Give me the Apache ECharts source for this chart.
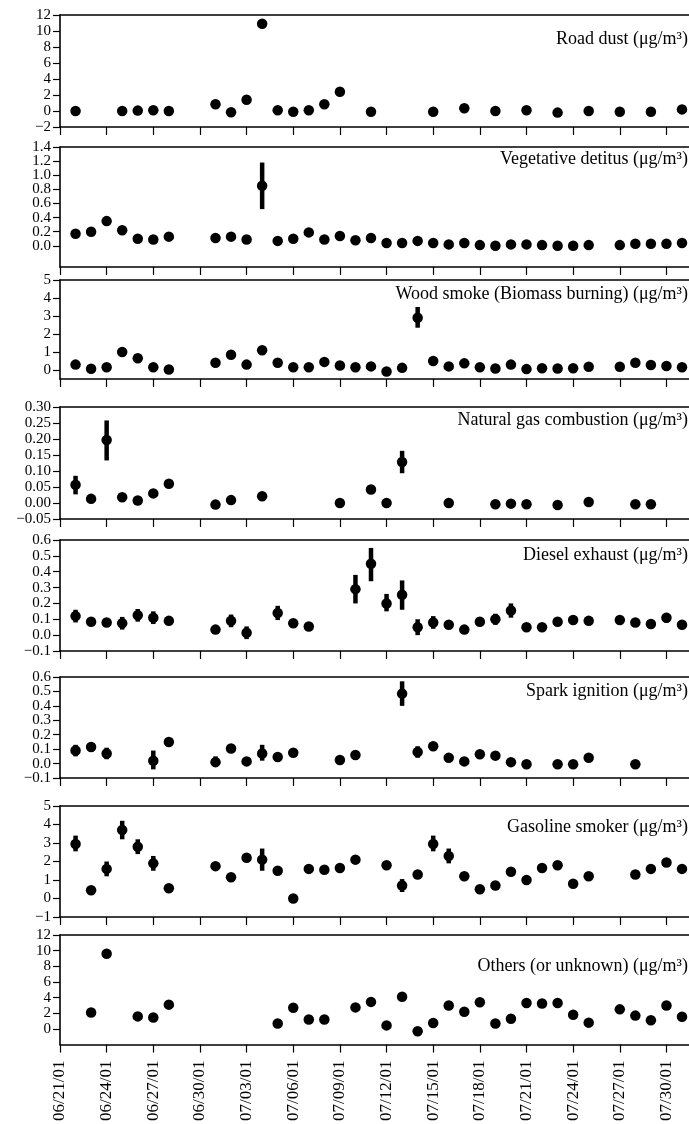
<!DOCTYPE html>
<html>
<head>
<meta charset="utf-8">
<script src="https://cdn.jsdelivr.net/npm/echarts@6/dist/echarts.min.js"></script>
<style>
html,body{margin:0;padding:0;background:#fff;}
#chart{width:689px;height:1124px;}
</style>
</head>
<body>
<div id="chart"></div>
<script>
// ---------- x axis (days after 06/21/01) ----------
const tickDays = [0,3,6,9,12,15,18,21,24,27,30,33,36,39];
const tickLabels = ['06/21/01','06/24/01','06/27/01','06/30/01','07/03/01','07/06/01','07/09/01','07/12/01','07/15/01','07/18/01','07/21/01','07/24/01','07/27/01','07/30/01'];

// ---------- panel titles ----------
const titles = [
  'Road dust (μg/m³)',
  'Vegetative detitus (μg/m³)',
  'Wood smoke (Biomass burning) (μg/m³)',
  'Natural gas combustion (μg/m³)',
  'Diesel exhaust (μg/m³)',
  'Spark ignition (μg/m³)',
  'Gasoline smoker (μg/m³)',
  'Others (or unknown) (μg/m³)'
];

// ---------- y tick values / labels ----------
const roadTicks = [-2,0,2,4,6,8,10,12];
const roadLabels = ['−2','0','2','4','6','8','10','12'];
const vegTicks = [0,0.2,0.4,0.6,0.8,1.0,1.2,1.4];
const vegLabels = ['0.0','0.2','0.4','0.6','0.8','1.0','1.2','1.4'];
const woodTicks = [0,1,2,3,4,5];
const woodLabels = ['0','1','2','3','4','5'];
const ngTicks = [-0.05,0,0.05,0.10,0.15,0.20,0.25,0.30];
const ngLabels = ['−0.05','0.00','0.05','0.10','0.15','0.20','0.25','0.30'];
const dieselTicks = [-0.1,0,0.1,0.2,0.3,0.4,0.5,0.6];
const dieselLabels = ['−0.1','0.0','0.1','0.2','0.3','0.4','0.5','0.6'];
const sparkTicks = [-0.1,0,0.1,0.2,0.3,0.4,0.5,0.6];
const sparkLabels = ['−0.1','0.0','0.1','0.2','0.3','0.4','0.5','0.6'];
const gasTicks = [-1,0,1,2,3,4,5];
const gasLabels = ['−1','0','1','2','3','4','5'];
const otherTicks = [0,2,4,6,8,10,12];
const otherLabels = ['0','2','4','6','8','10','12'];

// ---------- data: days and values ----------
const roadDays   = [1,4,5,6,7,10,11,12,13,14,15,16,17,18,20,24,26,28,30,32,34,36,38,40];
const roadValues = [0,0,0.05,0.1,0,0.85,-0.15,1.4,10.9,0.1,-0.1,0.1,0.85,2.4,-0.1,-0.1,0.35,0,0.1,-0.2,0,-0.1,-0.1,0.2];

const vegDays   = [1,2,3,4,5,6,7,10,11,12,13,14,15,16,17,18,19,20,21,22,23,24,25,26,27,28,29,30,31,32,33,34,36,37,38,39,40];
const vegValues = [0.17,0.2,0.35,0.22,0.1,0.09,0.13,0.11,0.13,0.09,0.85,0.07,0.1,0.19,0.09,0.14,0.08,0.11,0.04,0.04,0.07,0.04,0.02,0.04,0.01,0.0,0.02,0.02,0.01,0.0,0.0,0.01,0.01,0.03,0.03,0.03,0.04];
const vegErr = [[13,0.52,1.18]];

const woodDays   = [1,2,3,4,5,6,7,10,11,12,13,14,15,16,17,18,19,20,21,22,23,24,25,26,27,28,29,30,31,32,33,34,36,37,38,39,40];
const woodValues = [0.3,0.07,0.15,1.0,0.65,0.15,0.03,0.4,0.85,0.3,1.1,0.4,0.15,0.15,0.45,0.25,0.15,0.2,-0.08,0.12,2.9,0.5,0.2,0.37,0.15,0.08,0.3,0.05,0.1,0.08,0.1,0.18,0.18,0.4,0.28,0.22,0.15];
const woodErr = [[23,2.35,3.5]];

const ngDays   = [1,2,3,4,5,6,7,10,11,13,18,20,21,22,25,28,29,30,32,34,37,38];
const ngValues = [0.057,0.013,0.197,0.018,0.008,0.03,0.06,-0.005,0.009,0.021,0.0,0.042,0.0,0.128,0.0,-0.004,-0.002,-0.004,-0.006,0.003,-0.004,-0.004];
const ngErr = [[1,0.027,0.085],[3,0.133,0.258],[22,0.093,0.163]];

const dieselDays   = [1,2,3,4,5,6,7,10,11,12,14,15,16,19,20,21,22,23,24,25,26,27,28,29,30,31,32,33,34,36,37,38,39,40];
const dieselValues = [0.12,0.085,0.08,0.075,0.125,0.11,0.09,0.035,0.09,0.015,0.14,0.075,0.055,0.29,0.45,0.2,0.255,0.05,0.08,0.065,0.035,0.085,0.1,0.155,0.05,0.05,0.085,0.095,0.09,0.095,0.08,0.07,0.11,0.065];
const dieselErr = [[1,0.08,0.16],[4,0.035,0.115],[5,0.085,0.165],[6,0.07,0.15],[11,0.05,0.13],[12,-0.025,0.055],[14,0.095,0.185],[19,0.2,0.38],[20,0.34,0.55],[21,0.15,0.26],[22,0.16,0.345],[23,0.0,0.1],[24,0.04,0.12],[28,0.065,0.135],[29,0.11,0.2],[39,0.08,0.14]];

const sparkDays   = [1,2,3,6,7,10,11,12,13,14,15,18,19,22,23,24,25,26,27,28,29,30,32,33,34,37];
const sparkValues = [0.09,0.115,0.07,0.02,0.15,0.01,0.105,0.015,0.07,0.045,0.075,0.025,0.06,0.485,0.08,0.12,0.04,0.015,0.065,0.055,0.01,-0.005,-0.005,-0.005,0.04,-0.005];
const sparkErr = [[1,0.05,0.13],[3,0.03,0.11],[6,-0.04,0.09],[10,-0.02,0.05],[13,0.02,0.13],[22,0.4,0.57],[23,0.04,0.12]];

const gasDays   = [1,2,3,4,5,6,7,10,11,12,13,14,15,16,17,18,19,21,22,23,24,25,26,27,28,29,30,31,32,33,34,37,38,39,40];
const gasValues = [2.95,0.45,1.6,3.7,2.8,1.9,0.55,1.75,1.15,2.2,2.1,1.5,0.0,1.6,1.55,1.65,2.1,1.8,0.7,1.3,2.95,2.3,1.2,0.5,0.7,1.45,1.0,1.65,1.8,0.8,1.2,1.3,1.6,1.95,1.6];
const gasErr = [[1,2.55,3.4],[3,1.2,2.0],[4,3.2,4.2],[5,2.4,3.2],[6,1.5,2.3],[13,1.5,2.7],[22,0.35,1.05],[24,2.55,3.4],[25,1.9,2.7]];

const otherDays   = [2,3,5,6,7,14,15,16,17,19,20,21,22,23,24,25,26,27,28,29,30,31,32,33,34,36,37,38,39,40];
const otherValues = [2.1,9.6,1.6,1.45,3.1,0.7,2.7,1.2,1.2,2.75,3.45,0.45,4.1,-0.3,0.75,3.0,2.2,3.4,0.7,1.3,3.3,3.25,3.3,1.8,0.8,2.5,1.7,1.1,3.0,1.55];

// ---------- panel definitions (structure only) ----------
const panels = [
  {days: roadDays,   values: roadValues,   err: [],        min: -2,    max: 12,  ticks: roadTicks,   labels: roadLabels},
  {days: vegDays,    values: vegValues,    err: vegErr,    min: -0.3,  max: 1.4, ticks: vegTicks,    labels: vegLabels},
  {days: woodDays,   values: woodValues,   err: woodErr,   min: -0.5,  max: 5,   ticks: woodTicks,   labels: woodLabels},
  {days: ngDays,     values: ngValues,     err: ngErr,     min: -0.05, max: 0.30,ticks: ngTicks,     labels: ngLabels},
  {days: dieselDays, values: dieselValues, err: dieselErr, min: -0.1,  max: 0.6, ticks: dieselTicks, labels: dieselLabels},
  {days: sparkDays,  values: sparkValues,  err: sparkErr,  min: -0.1,  max: 0.6, ticks: sparkTicks,  labels: sparkLabels},
  {days: gasDays,    values: gasValues,    err: gasErr,    min: -1,    max: 5,   ticks: gasTicks,    labels: gasLabels},
  {days: otherDays,  values: otherValues,  err: [],        min: -2,    max: 12,  ticks: otherTicks,  labels: otherLabels}
];

// layout
const gridTops    = [15, 147, 280, 407, 540, 677, 806, 935];
const gridHeights = [112, 120, 99, 112, 111, 101, 111, 112];
const titleTops   = [30, 150, 285, 411, 546, 682, 818, 957];
const XMAX = 40.45;
const FONT = '"Liberation Serif", "DejaVu Serif", serif';

function lookup(ticks, labels, v) {
  for (let i = 0; i < ticks.length; i++) {
    if (Math.abs(ticks[i] - v) < 1e-6) return labels[i];
  }
  return '';
}

const grids = [], xAxes = [], yAxes = [], series = [], titleComps = [];
panels.forEach((p, i) => {
  grids.push({left: 60, right: 0, top: gridTops[i], height: gridHeights[i]});
  // bottom axis with outward ticks
  xAxes.push({
    gridIndex: i, type: 'value', min: 0, max: XMAX, position: 'bottom',
    axisLine: {show: true, onZero: false, lineStyle: {color: '#000', width: 1.6}},
    axisTick: {show: true, inside: false, length: 8, customValues: tickDays, lineStyle: {color: '#000', width: 1.2}},
    axisLabel: {
      show: i === panels.length - 1, customValues: tickDays, rotate: 90, margin: 16,
      fontFamily: FONT, fontSize: 17, color: '#000',
      formatter: v => lookup(tickDays, tickLabels, v)
    },
    splitLine: {show: false}
  });
  // top frame line
  xAxes.push({
    gridIndex: i, type: 'value', min: 0, max: XMAX, position: 'top',
    axisLine: {show: true, onZero: false, lineStyle: {color: '#000', width: 1.6}},
    axisTick: {show: false}, axisLabel: {show: false}, splitLine: {show: false}
  });
  // two y axes per panel (alternating tick labels) so close labels are never dropped
  const evenTicks = p.ticks.filter((_, k) => k % 2 === 0);
  const oddTicks  = p.ticks.filter((_, k) => k % 2 === 1);
  [evenTicks, oddTicks].forEach((tv, j) => {
    yAxes.push({
      gridIndex: i, type: 'value', min: p.min, max: p.max, position: 'left',
      axisLine: {show: j === 0, onZero: false, lineStyle: {color: '#000', width: 1.6}},
      axisTick: {show: true, inside: false, length: 7, customValues: tv, lineStyle: {color: '#000', width: 1.2}},
      axisLabel: {
        customValues: tv, margin: 9, fontFamily: FONT, fontSize: 15,
        color: '#000', showMinLabel: true, showMaxLabel: true, hideOverlap: false,
        formatter: v => lookup(p.ticks, p.labels, v)
      },
      splitLine: {show: false}
    });
  });
  if (p.err.length) {
    series.push({
      type: 'custom', xAxisIndex: 2 * i, yAxisIndex: 2 * i, silent: true,
      data: p.err,
      renderItem: (params, api) => {
        const a = api.coord([api.value(0), api.value(1)]);
        const b = api.coord([api.value(0), api.value(2)]);
        return {type: 'line', shape: {x1: a[0], y1: a[1], x2: b[0], y2: b[1]},
                style: {stroke: '#000', lineWidth: 4.5}};
      },
      z: 3
    });
  }
  series.push({
    type: 'scatter', xAxisIndex: 2 * i, yAxisIndex: 2 * i,
    data: p.days.map((d, k) => [d, p.values[k]]),
    symbol: 'circle', symbolSize: 10.5,
    itemStyle: {color: '#000', opacity: 1}, z: 4
  });
  titleComps.push({
    text: titles[i], right: 1, top: titleTops[i], padding: 0,
    textStyle: {fontFamily: FONT, fontSize: 18, fontWeight: 'normal', color: '#000'}
  });
});

const chart = echarts.init(document.getElementById('chart'), null, {renderer: 'canvas'});
chart.setOption({
  animation: false,
  backgroundColor: '#fff',
  title: titleComps,
  grid: grids,
  xAxis: xAxes,
  yAxis: yAxes,
  series: series
});
</script>
</body>
</html>
